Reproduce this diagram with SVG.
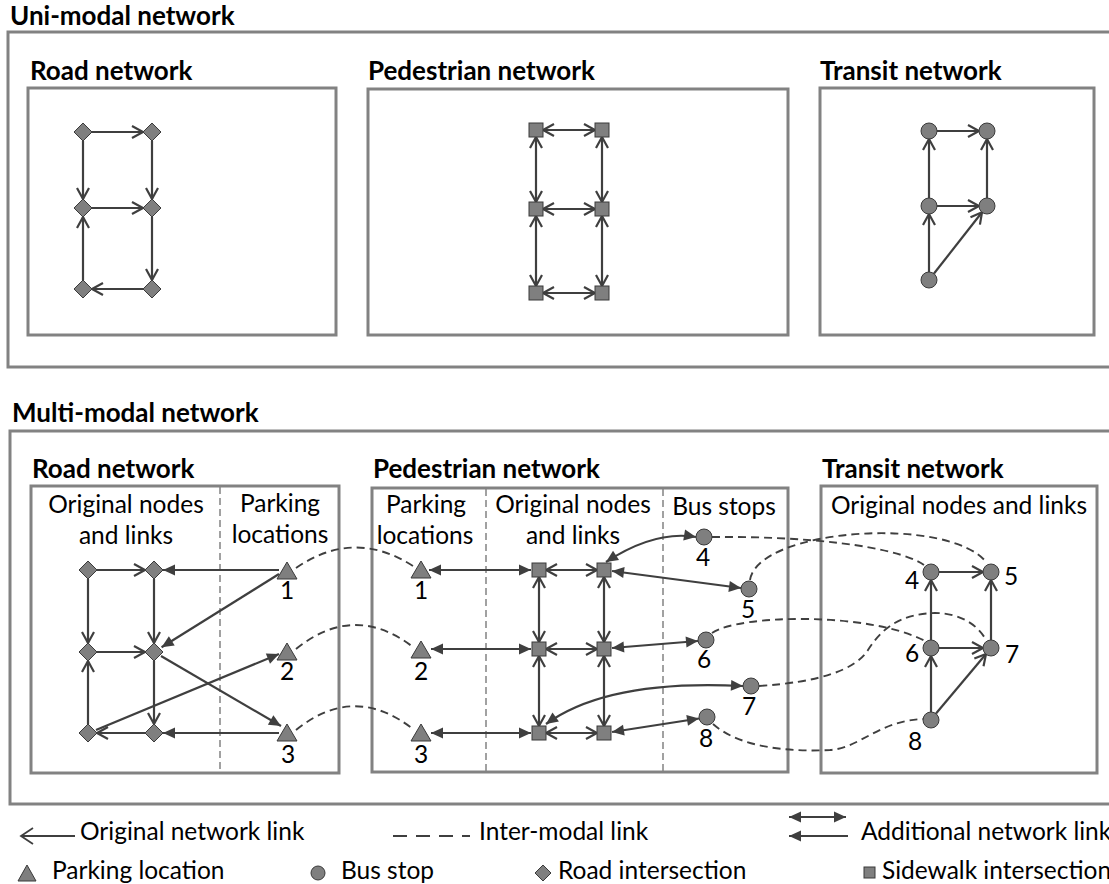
<svg xmlns="http://www.w3.org/2000/svg" xmlns:xlink="http://www.w3.org/1999/xlink" width="1109" height="884" viewBox="0 0 1109 884">
  <style>
    text { font-family: Lato, "Liberation Sans", sans-serif; fill: #000; }
    .title { font-size: 26px; font-weight: bold; }
    .lbl { font-size: 24.5px; }
    .mid { text-anchor: middle; }
    .box { fill: none; stroke: #828282; stroke-width: 3; }
    .div { fill: none; stroke: #828282; stroke-width: 1.5; stroke-dasharray: 7 4; }
    .node { fill: #7f7f7f; stroke: #3a3a3a; stroke-width: 1; }
    .orig { fill: none; stroke: #3f3f3f; stroke-width: 2.2; marker-end: url(#open); }
    .orig2 { fill: none; stroke: #3f3f3f; stroke-width: 2.2; marker-start: url(#open); marker-end: url(#open); }
    .add { fill: none; stroke: #3f3f3f; stroke-width: 2.2; marker-end: url(#solid); }
    .add2 { fill: none; stroke: #3f3f3f; stroke-width: 2.2; marker-start: url(#solid); marker-end: url(#solid); }
    .inter { fill: none; stroke: #3f3f3f; stroke-width: 1.9; stroke-dasharray: 8 5; }
  </style>
  <defs>
    <marker id="open" markerUnits="userSpaceOnUse" markerWidth="14" markerHeight="14" refX="11" refY="6" orient="auto-start-reverse" overflow="visible">
      <path d="M0,0 L11,6 L0,12" fill="none" stroke="#3f3f3f" stroke-width="2.2"/>
    </marker>
    <marker id="solid" markerUnits="userSpaceOnUse" markerWidth="14" markerHeight="14" refX="12" refY="6" orient="auto-start-reverse" overflow="visible">
      <path d="M0,0.5 L12,6 L0,11.5 Z" fill="#3f3f3f"/>
    </marker>
    <path id="dia" d="M0,-9 L9,0 L0,9 L-9,0 Z"/>
    <rect id="sq" x="-7" y="-7" width="14" height="14"/>
    <circle id="stop" r="8"/>
    <path id="tri" d="M0,-9 L10,8 L-10,8 Z"/>
  </defs>

  <!-- upper panel: single-mode networks -->
  <g id="uni-modal">
    <text class="title" x="10" y="25">Uni-modal network</text>
    <rect class="box" x="8" y="32" width="1120" height="335"/>
    <text class="title" x="30" y="80">Road network</text>
    <rect class="box" x="28" y="88" width="308" height="247"/>
    <text class="title" x="368" y="80">Pedestrian network</text>
    <rect class="box" x="368" y="89" width="420" height="246"/>
    <text class="title" x="820" y="80">Transit network</text>
    <rect class="box" x="820" y="88" width="274" height="247"/>
  </g>

  <!-- lower panel: combined network -->
  <g id="multi-modal">
    <text class="title" x="12" y="422">Multi-modal network</text>
    <rect class="box" x="10" y="431" width="1120" height="373"/>
    <text class="title" x="32" y="478">Road network</text>
    <rect class="box" x="31" y="486" width="308" height="287"/>
    <line class="div" x1="220" y1="487" x2="220" y2="772"/>
    <text class="lbl mid" x="126" y="513">Original nodes</text>
    <text class="lbl mid" x="126" y="544">and links</text>
    <text class="lbl mid" x="280" y="512">Parking</text>
    <text class="lbl mid" x="280" y="543">locations</text>
    <text class="title" x="373" y="478">Pedestrian network</text>
    <rect class="box" x="372" y="488" width="416" height="284"/>
    <line class="div" x1="486" y1="489" x2="486" y2="771"/>
    <line class="div" x1="663" y1="489" x2="663" y2="771"/>
    <text class="lbl mid" x="426" y="513">Parking</text>
    <text class="lbl mid" x="425" y="544">locations</text>
    <text class="lbl mid" x="573" y="513">Original nodes</text>
    <text class="lbl mid" x="573" y="544">and links</text>
    <text class="lbl mid" x="724" y="515">Bus stops</text>
    <text class="title" x="822" y="478">Transit network</text>
    <rect class="box" x="821" y="486" width="276" height="287"/>
    <text class="lbl mid" x="959" y="514">Original nodes and links</text>
  </g>

  <!-- links -->
  <g id="connectors">
    <!-- uni-modal road -->
    <path class="orig" d="M92,132 H143"/>
    <path class="orig" d="M83,141 V199"/>
    <path class="orig" d="M152,141 V199"/>
    <path class="orig" d="M92,208 H143"/>
    <path class="orig" d="M83,280 V217"/>
    <path class="orig" d="M152,217 V280"/>
    <path class="orig" d="M143,289 H92"/>
    <!-- uni-modal pedestrian -->
    <path class="orig2" d="M543,130 H595"/>
    <path class="orig2" d="M543,209 H595"/>
    <path class="orig2" d="M543,293 H595"/>
    <path class="orig2" d="M536,137 V202"/>
    <path class="orig2" d="M536,216 V286"/>
    <path class="orig2" d="M602,137 V202"/>
    <path class="orig2" d="M602,216 V286"/>
    <!-- uni-modal transit -->
    <path class="orig" d="M937,131 H979"/>
    <path class="orig" d="M929,198 V139"/>
    <path class="orig" d="M987,198 V139"/>
    <path class="orig" d="M937,206 H979"/>
    <path class="orig" d="M929,272 V214"/>
    <path class="orig" d="M934,273.5 L982,212.3"/>

    <!-- multi-modal road: original links -->
    <path class="orig" d="M97,570 H145"/>
    <path class="orig" d="M88,579 V643"/>
    <path class="orig" d="M154,579 V643"/>
    <path class="orig" d="M97,652 H145"/>
    <path class="orig" d="M88,724 V661"/>
    <path class="orig" d="M154,661 V724"/>
    <path class="orig" d="M145,733 H97"/>
    <!-- multi-modal road: parking links -->
    <path class="add" d="M279,570 H163"/>
    <path class="add" d="M279,574 L161.6,647.2"/>
    <path class="add" d="M279,733 H163"/>
    <path class="add" d="M161,656 L281,726"/>
    <path class="add" d="M96,730 L279,654"/>

    <!-- multi-modal pedestrian: parking links -->
    <path class="add2" d="M429,570 H531"/>
    <path class="add2" d="M431,649 H531"/>
    <path class="add2" d="M431,733 H531"/>
    <!-- multi-modal pedestrian: sidewalk grid -->
    <path class="orig2" d="M546,570 H597"/>
    <path class="orig2" d="M546,649 H597"/>
    <path class="orig2" d="M546,733 H597"/>
    <path class="orig2" d="M539,577 V642"/>
    <path class="orig2" d="M539,656 V726"/>
    <path class="orig2" d="M604,577 V642"/>
    <path class="orig2" d="M604,656 V726"/>
    <!-- multi-modal pedestrian: bus stop links -->
    <path class="add2" d="M606,562 Q655,530 696,537"/>
    <path class="add2" d="M612,571 L741,588"/>
    <path class="add2" d="M612,648 L698,641"/>
    <path class="add2" d="M546,724 Q608,679 743,686"/>
    <path class="add2" d="M612,732 L699,718.5"/>

    <!-- multi-modal transit -->
    <path class="orig" d="M939,572 H983"/>
    <path class="orig" d="M931,640 V580"/>
    <path class="orig" d="M991,640 V580"/>
    <path class="orig" d="M939,648 H983"/>
    <path class="orig" d="M931,712 V656"/>
    <path class="orig" d="M936,713.5 L986,654"/>

    <!-- inter-modal links: road to pedestrian -->
    <path class="inter" d="M296,568 Q354,528 413,566"/>
    <path class="inter" d="M296,649 Q354,602 413,647"/>
    <path class="inter" d="M296,730 Q354,683 413,729"/>
    <!-- inter-modal links: bus stops to transit -->
    <path class="inter" d="M712,537 C800,536 895,545 924,565"/>
    <path class="inter" d="M750,580 C758,528 950,515 987,563"/>
    <path class="inter" d="M712,633 C740,614 870,612 925,641"/>
    <path class="inter" d="M759,686 C820,682 855,670 868,650 C882,628 900,614 935,613 C960,613 978,625 986,640"/>
    <path class="inter" d="M713,724 C740,748 790,752 830,750 C860,748 880,720 924,719"/>
  </g>

  <!-- uni-modal nodes -->
  <g id="uni-road-nodes" class="node">
    <use id="ur1" href="#dia" x="83" y="132"/>
    <use id="ur2" href="#dia" x="152" y="132"/>
    <use id="ur3" href="#dia" x="83" y="208"/>
    <use id="ur4" href="#dia" x="152" y="208"/>
    <use id="ur5" href="#dia" x="83" y="289"/>
    <use id="ur6" href="#dia" x="152" y="289"/>
  </g>
  <g id="uni-ped-nodes" class="node">
    <use id="up1" href="#sq" x="536" y="130"/>
    <use id="up2" href="#sq" x="602" y="130"/>
    <use id="up3" href="#sq" x="536" y="209"/>
    <use id="up4" href="#sq" x="602" y="209"/>
    <use id="up5" href="#sq" x="536" y="293"/>
    <use id="up6" href="#sq" x="602" y="293"/>
  </g>
  <g id="uni-transit-nodes" class="node">
    <use id="ut1" href="#stop" x="929" y="131"/>
    <use id="ut2" href="#stop" x="987" y="131"/>
    <use id="ut3" href="#stop" x="929" y="206"/>
    <use id="ut4" href="#stop" x="987" y="206"/>
    <use id="ut5" href="#stop" x="929" y="280"/>
  </g>

  <!-- multi-modal road nodes -->
  <g id="mm-road-nodes" class="node">
    <use id="mr1" href="#dia" x="88" y="570"/>
    <use id="mr2" href="#dia" x="154" y="570"/>
    <use id="mr3" href="#dia" x="88" y="652"/>
    <use id="mr4" href="#dia" x="154" y="652"/>
    <use id="mr5" href="#dia" x="88" y="733"/>
    <use id="mr6" href="#dia" x="154" y="733"/>
  </g>
  <g id="mm-road-parking-1"><use class="node" href="#tri" x="287" y="571"/><text class="lbl mid" x="287" y="599">1</text></g>
  <g id="mm-road-parking-2"><use class="node" href="#tri" x="287" y="652"/><text class="lbl mid" x="287" y="680">2</text></g>
  <g id="mm-road-parking-3"><use class="node" href="#tri" x="287" y="733"/><text class="lbl mid" x="288" y="763">3</text></g>

  <!-- multi-modal pedestrian nodes -->
  <g id="mm-ped-parking-1"><use class="node" href="#tri" x="421" y="570"/><text class="lbl mid" x="421" y="599">1</text></g>
  <g id="mm-ped-parking-2"><use class="node" href="#tri" x="421" y="650"/><text class="lbl mid" x="421" y="680">2</text></g>
  <g id="mm-ped-parking-3"><use class="node" href="#tri" x="421" y="733"/><text class="lbl mid" x="421" y="763">3</text></g>
  <g id="mm-ped-nodes" class="node">
    <use id="mp1" href="#sq" x="539" y="570"/>
    <use id="mp2" href="#sq" x="604" y="570"/>
    <use id="mp3" href="#sq" x="539" y="649"/>
    <use id="mp4" href="#sq" x="604" y="649"/>
    <use id="mp5" href="#sq" x="539" y="733"/>
    <use id="mp6" href="#sq" x="604" y="733"/>
  </g>
  <g id="mm-ped-stop-4"><use class="node" href="#stop" x="704" y="537"/><text class="lbl mid" x="703" y="566">4</text></g>
  <g id="mm-ped-stop-5"><use class="node" href="#stop" x="749" y="589"/><text class="lbl mid" x="748" y="618">5</text></g>
  <g id="mm-ped-stop-6"><use class="node" href="#stop" x="706" y="640"/><text class="lbl mid" x="704" y="668">6</text></g>
  <g id="mm-ped-stop-7"><use class="node" href="#stop" x="751" y="686"/><text class="lbl mid" x="749" y="715">7</text></g>
  <g id="mm-ped-stop-8"><use class="node" href="#stop" x="707" y="717"/><text class="lbl mid" x="706" y="747">8</text></g>

  <!-- multi-modal transit nodes -->
  <g id="mm-transit-4"><use class="node" href="#stop" x="931" y="572"/><text class="lbl mid" x="912" y="589">4</text></g>
  <g id="mm-transit-5"><use class="node" href="#stop" x="991" y="572"/><text class="lbl mid" x="1011" y="585">5</text></g>
  <g id="mm-transit-6"><use class="node" href="#stop" x="931" y="648"/><text class="lbl mid" x="912" y="662">6</text></g>
  <g id="mm-transit-7"><use class="node" href="#stop" x="991" y="648"/><text class="lbl mid" x="1012" y="663">7</text></g>
  <g id="mm-transit-8"><use class="node" href="#stop" x="931" y="720"/><text class="lbl mid" x="915" y="750">8</text></g>

  <!-- key -->
  <g id="legend">
    <path d="M75,836 H21" fill="none" stroke="#3f3f3f" stroke-width="1.8"/>
    <path d="M33,828 L21,836 L33,844" fill="none" stroke="#3f3f3f" stroke-width="1.8"/>
    <text class="lbl" x="80" y="840">Original network link</text>
    <path d="M393,836 H470" fill="none" stroke="#3f3f3f" stroke-width="1.8" stroke-dasharray="14 9"/>
    <text class="lbl" x="479" y="840">Inter-modal link</text>
    <path class="add2" d="M789,817 H846"/>
    <path d="M848,836 H789" fill="none" stroke="#3f3f3f" stroke-width="2.2" marker-end="url(#solid)"/>
    <text class="lbl" x="861" y="840">Additional network link</text>
    <path class="node" d="M27,865 L36,881 L18,881 Z"/>
    <text class="lbl" x="52" y="879">Parking location</text>
    <circle class="node" cx="318" cy="873" r="7"/>
    <text class="lbl" x="341" y="879">Bus stop</text>
    <path class="node" d="M543,865 L551,873 L543,881 L535,873 Z"/>
    <text class="lbl" x="558" y="879">Road intersection</text>
    <rect class="node" x="864" y="867" width="11" height="11"/>
    <text class="lbl" x="882" y="879">Sidewalk intersection</text>
  </g>
</svg>
